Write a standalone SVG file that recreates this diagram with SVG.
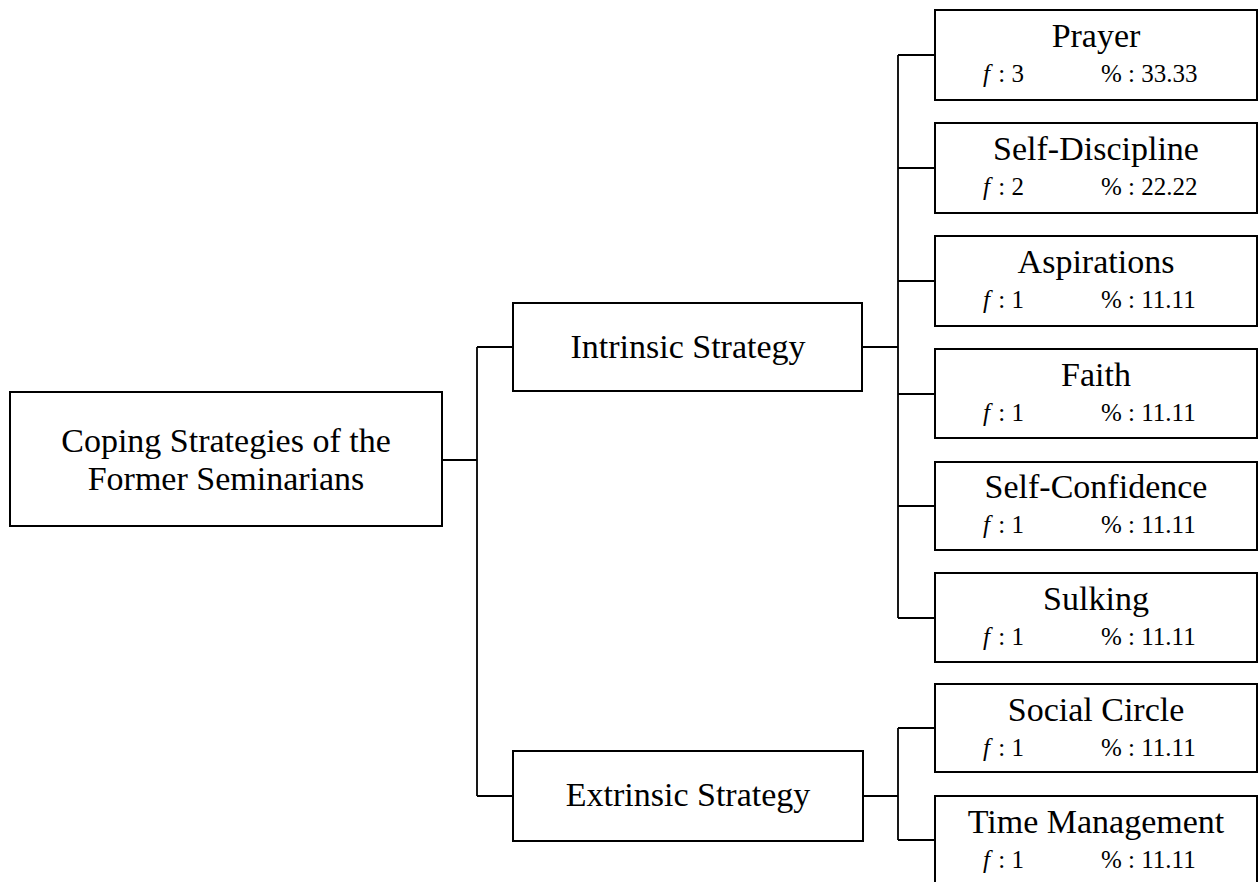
<svg xmlns="http://www.w3.org/2000/svg" width="1260" height="882" viewBox="0 0 1260 882">
<style>
.box{fill:#fff;stroke:#000;stroke-width:2}
.ln{fill:none;stroke:#000;stroke-width:1.8}
.t{font-family:"Liberation Serif","DejaVu Serif",serif;fill:#000}
.big{font-size:34px;text-anchor:middle}
.sub{font-size:25px;text-anchor:start}
.fi{font-style:italic}
</style>
<rect width="1260" height="882" fill="#fff"/>
<g id="connectors">
<path class="ln" d="M442,460H477M477,347V796M477,347H513M477,796H513"/>
<path class="ln" d="M862,347H898M898,55V618M898,55H935M898,168H935M898,281H935M898,394H935M898,506H935M898,618H935"/>
<path class="ln" d="M863,796H898M898,728V840M898,728H935M898,840H935"/>
</g>
<g id="root"><rect class="box" x="10" y="392" width="432" height="134"/>
<text class="t big" x="226" y="452">Coping Strategies of the</text>
<text class="t big" x="226" y="490">Former Seminarians</text></g>
<g id="intrinsic"><rect class="box" x="513" y="303" width="349" height="88"/>
<text class="t big" x="688" y="358">Intrinsic Strategy</text></g>
<g id="extrinsic"><rect class="box" x="513" y="751" width="350" height="90"/>
<text class="t big" x="688" y="806">Extrinsic Strategy</text></g>
<g id="prayer"><rect class="box" x="935" y="10" width="322" height="90"/>
<text class="t big" x="1096" y="47">Prayer</text>
<text class="t sub" x="983" y="82"><tspan class="fi">f</tspan><tspan dx="2"> : 3</tspan></text>
<text class="t sub" x="1101" y="82">% : 33.33</text></g>
<g id="selfdiscipline"><rect class="box" x="935" y="123" width="322" height="90"/>
<text class="t big" x="1096" y="160">Self-Discipline</text>
<text class="t sub" x="983" y="195"><tspan class="fi">f</tspan><tspan dx="2"> : 2</tspan></text>
<text class="t sub" x="1101" y="195">% : 22.22</text></g>
<g id="aspirations"><rect class="box" x="935" y="236" width="322" height="90"/>
<text class="t big" x="1096" y="273">Aspirations</text>
<text class="t sub" x="983" y="308"><tspan class="fi">f</tspan><tspan dx="2"> : 1</tspan></text>
<text class="t sub" x="1101" y="308">% : 11.11</text></g>
<g id="faith"><rect class="box" x="935" y="349" width="322" height="89"/>
<text class="t big" x="1096" y="386">Faith</text>
<text class="t sub" x="983" y="421"><tspan class="fi">f</tspan><tspan dx="2"> : 1</tspan></text>
<text class="t sub" x="1101" y="421">% : 11.11</text></g>
<g id="selfconfidence"><rect class="box" x="935" y="462" width="322" height="88"/>
<text class="t big" x="1096" y="498">Self-Confidence</text>
<text class="t sub" x="983" y="533"><tspan class="fi">f</tspan><tspan dx="2"> : 1</tspan></text>
<text class="t sub" x="1101" y="533">% : 11.11</text></g>
<g id="sulking"><rect class="box" x="935" y="573" width="322" height="89"/>
<text class="t big" x="1096" y="610">Sulking</text>
<text class="t sub" x="983" y="645"><tspan class="fi">f</tspan><tspan dx="2"> : 1</tspan></text>
<text class="t sub" x="1101" y="645">% : 11.11</text></g>
<g id="socialcircle"><rect class="box" x="935" y="684" width="322" height="88"/>
<text class="t big" x="1096" y="721">Social Circle</text>
<text class="t sub" x="983" y="756"><tspan class="fi">f</tspan><tspan dx="2"> : 1</tspan></text>
<text class="t sub" x="1101" y="756">% : 11.11</text></g>
<g id="timemanagement"><rect class="box" x="935" y="796" width="322" height="95"/>
<text class="t big" x="1096" y="833">Time Management</text>
<text class="t sub" x="983" y="868"><tspan class="fi">f</tspan><tspan dx="2"> : 1</tspan></text>
<text class="t sub" x="1101" y="868">% : 11.11</text></g>
</svg>
